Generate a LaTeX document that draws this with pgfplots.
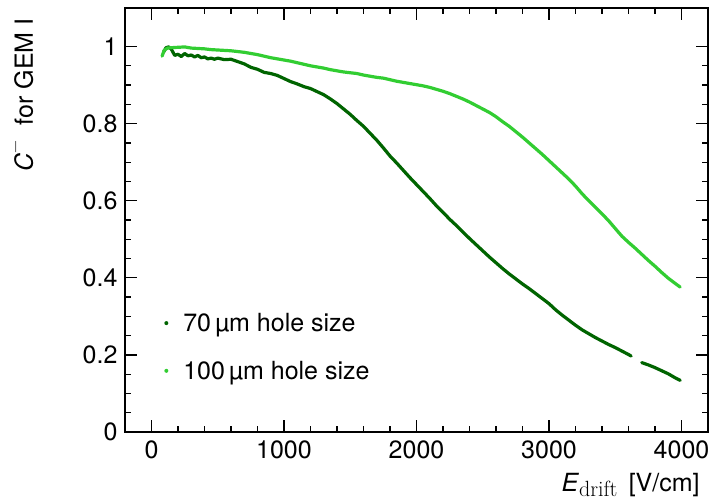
\documentclass[border=0pt]{standalone}
\usepackage[no-math]{fontspec}
\setmainfont{TeX Gyre Heros}
\newfontfamily\lmr{Latin Modern Roman}
\usepackage{pgfplots}
\pgfplotsset{compat=1.18}
\definecolor{dg}{RGB}{0,100,0}
\definecolor{lg}{RGB}{50,205,50}
\newcommand{\bigf}{\fontsize{25}{30}\selectfont}
\begin{document}
\begin{tikzpicture}
\begin{axis}[
  scale only axis, width=583pt, height=424pt,
  xmin=-200, xmax=4200, ymin=0, ymax=1.1,
  clip=false,
  axis line style={line width=1.5pt},
  every tick/.style={line width=1.2pt, black},
  major tick length=12pt, minor tick length=6pt,
  tick align=inside,
  xtick={0,1000,2000,3000,4000}, minor x tick num=4,
  ytick={0,0.2,0.4,0.6,0.8,1}, minor y tick num=3,
  scaled ticks=false,
  /pgf/number format/assume math mode=true,
  /pgf/number format/1000 sep={},
  tick label style={font=\bigf},
  xticklabel style={yshift=-5pt},
  yticklabel style={xshift=-4pt},
  xlabel={\textit{E}\raisebox{-0.2em}{\lmr\fontsize{22}{24}\selectfont drift}\hspace{0.45em}[V/cm]},
  ylabel={\textit{C}\raisebox{0.5em}{\lmr\fontsize{18}{20}\selectfont −}\hspace{0.6em}for GEM I},
  xlabel style={font=\bigf, at={(axis description cs:0.986,-0.1415)}, anchor=base east, inner sep=0pt},
  ylabel style={font=\bigf, at={(axis description cs:-0.158,0.976)}, anchor=base east, rotate=0, inner sep=0pt},
  unbounded coords=jump,
  legend style={draw=none, fill=none, font=\bigf, at={(axis description cs:0.062,0.29)}, anchor=north west, row sep=24pt},
  legend cell align=left,
  legend image code/.code={\path[draw=none] (0pt,0pt) -- (17pt,0pt); \fill[#1, draw=none] (2pt,0pt) circle (2pt);},
]
\addplot[color=dg, line width=3.2pt, line join=round, line cap=round] coordinates {
(90,0.985)(110,0.997)(130,0.999)(150,0.993)(175,0.977)(200,0.980)(225,0.974)(250,0.982)(275,0.976)(300,0.978)(325,0.973)(350,0.977)(375,0.971)(400,0.973)(425,0.968)(450,0.970)(475,0.967)(500,0.970)(550,0.966)(600,0.967)(650,0.961)(700,0.955)(750,0.946)(800,0.941)(850,0.933)(900,0.930)(950,0.925)(1000,0.917)(1050,0.909)(1100,0.903)(1150,0.896)(1200,0.891)(1250,0.883)(1300,0.875)(1350,0.864)(1400,0.852)(1450,0.838)(1500,0.824)(1550,0.808)(1600,0.793)(1650,0.775)(1700,0.757)(1750,0.737)(1800,0.716)(1850,0.698)(1900,0.679)(1950,0.660)(2000,0.642)(2050,0.624)(2100,0.606)(2150,0.587)(2200,0.570)(2250,0.552)(2300,0.536)(2350,0.519)(2400,0.502)(2450,0.486)(2500,0.470)(2550,0.454)(2600,0.439)(2650,0.424)(2700,0.410)(2750,0.397)(2800,0.384)(2850,0.372)(2900,0.359)(2950,0.346)(3000,0.333)(3050,0.317)(3100,0.303)(3150,0.290)(3200,0.277)(3250,0.265)(3300,0.255)(3350,0.245)(3400,0.236)(3450,0.227)(3500,0.219)(3550,0.210)(3600,0.201)(3620,0.197)(3660,nan)(3700,0.180)(3750,0.174)(3800,0.167)(3850,0.159)(3900,0.151)(3950,0.141)(3990,0.134)
};
\addlegendentry{70\,µm hole size}
\addplot[color=lg, line width=3.2pt, line join=round, line cap=round] coordinates {
(80,0.975)(95,0.990)(120,0.996)(150,0.997)(200,0.998)(250,0.999)(300,0.996)(350,0.995)(400,0.994)(450,0.992)(500,0.991)(550,0.990)(600,0.989)(650,0.987)(700,0.985)(750,0.982)(800,0.979)(850,0.975)(900,0.971)(950,0.968)(1000,0.965)(1050,0.962)(1100,0.958)(1150,0.954)(1200,0.950)(1250,0.947)(1300,0.944)(1350,0.940)(1400,0.937)(1450,0.934)(1500,0.932)(1550,0.930)(1600,0.926)(1650,0.923)(1700,0.920)(1750,0.918)(1800,0.914)(1850,0.910)(1900,0.907)(1950,0.904)(2000,0.901)(2050,0.898)(2100,0.894)(2150,0.889)(2200,0.884)(2250,0.878)(2300,0.871)(2350,0.864)(2400,0.856)(2450,0.847)(2500,0.838)(2550,0.829)(2600,0.818)(2650,0.805)(2700,0.793)(2750,0.779)(2800,0.765)(2850,0.750)(2900,0.735)(2950,0.720)(3000,0.704)(3050,0.688)(3100,0.672)(3150,0.656)(3200,0.638)(3250,0.618)(3300,0.600)(3350,0.583)(3400,0.566)(3450,0.548)(3500,0.528)(3550,0.508)(3600,0.492)(3650,0.477)(3700,0.461)(3750,0.445)(3800,0.430)(3850,0.414)(3900,0.399)(3950,0.386)(3990,0.376)
};
\addlegendentry{100\,µm hole size}
\path (rel axis cs:1,1) ++(9pt,8pt);
\path (rel axis cs:0,0) ++(-125pt,-70pt);
\end{axis}
\end{tikzpicture}
\end{document}
